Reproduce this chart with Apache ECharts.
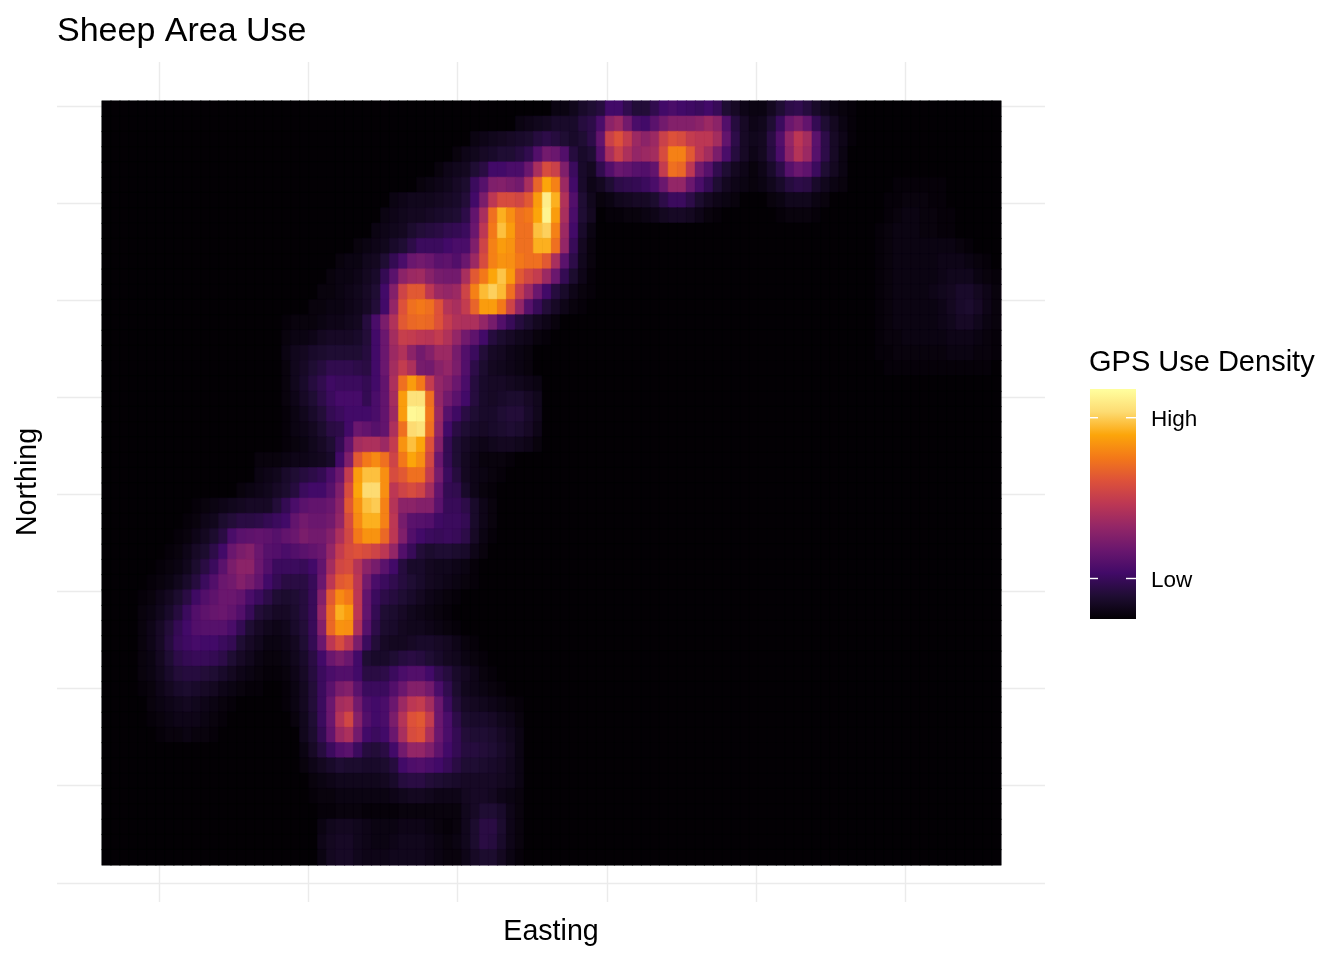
<!DOCTYPE html>
<html><head><meta charset="utf-8">
<style>html,body{margin:0;padding:0;background:#fff}#c{width:1344px;height:960px}</style>
<script src="https://cdn.jsdelivr.net/npm/echarts@6/dist/echarts.min.js"></script>
</head><body><div id="c"></div>
<script>
const columnCount = 100;
const rowCount = 50;
const xTicks = [1000,1500,2000,2500,3000,3500];
const yTicks = [8000,7500,7000,6500,6000,5500,5000,4500,4000];
// density per cell, 0-100 on the colour scale. each row: first number = first column, then values
const mainRows = [
[50,3,3,5,8,10],
[46,3,4,5,6,8,8,8,12,14],
[41,3,4,5,6,7,8,9,12,14,12,10,8,10,14],
[39,2,4,5,7,8,10,10,12,15,24,32,30,24,12,8,10],
[37,2,4,5,6,10,13,20,20,22,22,30,45,58,54,35,18,8,6],
[35,2,3,4,5,7,9,18,25,35,36,34,32,45,65,80,72,42,20,8,4],
[32,3,4,5,5,5,6,7,8,11,20,34,50,58,58,56,62,78,95,82,47,24,10,5],
[31,3,4,5,6,6,7,8,9,10,14,28,45,68,82,75,68,70,80,97,78,45,22,10,6],
[30,3,4,5,6,9,11,12,13,15,16,18,30,50,70,85,78,68,68,85,88,72,42,20,8,3],
[28,2,3,4,5,8,10,14,18,18,18,20,22,22,35,55,72,78,76,68,68,82,82,68,40,17,6,2],
[26,2,3,3,5,6,10,16,22,30,32,30,26,27,24,30,42,58,72,76,75,70,68,68,62,45,26,14,5,2],
[25,2,3,3,4,6,8,16,26,38,42,43,37,33,32,32,45,62,70,80,86,78,62,56,52,42,30,16,9,4,1],
[24,2,2,3,4,5,7,10,20,36,55,62,62,50,42,40,42,55,72,84,88,84,68,52,42,30,20,12,8,4,2,1],
[23,2,2,3,3,4,5,7,11,20,40,60,68,70,68,60,48,45,52,65,78,78,70,55,40,25,17,11,7,4,2,1],
[20,1,2,2,2,3,4,4,5,6,12,22,34,47,62,66,67,66,60,52,47,46,46,40,33,24,17,12,9,6,4,2],
[20,2,3,3,4,6,7,7,7,8,11,20,30,44,53,52,50,49,52,47,40,32,27,20,12,9,7,5,4,2,1],
[20,3,5,6,8,9,10,10,10,10,12,20,30,42,47,38,32,36,42,42,33,24,18,11,7,6,4,3,2],
[20,2,5,7,10,12,15,15,15,14,13,20,30,44,52,46,33,32,37,40,34,24,14,9,6,5,4,3,2],
[20,2,5,8,12,15,19,18,18,18,16,20,28,46,68,78,70,52,40,36,30,22,12,8,7,7,6,5,4,3],
[20,2,4,7,10,14,18,21,21,21,16,22,28,44,78,92,92,68,40,32,26,20,12,8,7,8,9,9,7,5],
[20,1,3,5,8,11,16,18,20,20,20,22,28,42,78,98,97,70,42,25,19,13,10,8,8,10,11,11,8,5],
[20,1,3,4,6,9,13,14,20,30,28,25,28,46,68,90,92,68,40,20,13,10,8,7,8,9,10,9,7,4],
[20,1,2,3,5,7,10,16,28,44,46,46,42,52,76,85,80,60,36,16,10,7,5,4,5,6,6,5,4,2],
[17,2,2,2,3,4,4,5,6,8,20,35,62,70,74,68,55,70,80,75,56,30,16,10,6,4,2,2,2,1],
[17,3,4,5,8,10,12,14,16,22,30,52,78,85,85,75,58,62,68,68,52,33,18,12,6,4,3,2,1],
[15,2,3,4,5,7,9,12,18,20,20,25,35,58,80,90,90,75,50,55,58,55,44,28,16,15,8,4,2,1],
[10,1,2,3,4,5,6,7,7,7,11,16,22,26,28,28,30,38,62,76,85,87,72,48,38,38,36,36,26,17,17,14,8,4,2],
[9,1,2,4,5,9,11,13,13,14,16,18,20,28,32,30,30,32,40,58,74,82,82,72,50,33,26,25,24,19,18,18,16,8,4,2],
[8,1,2,4,6,9,13,22,26,27,28,27,25,28,30,34,32,32,36,46,56,70,76,76,66,50,35,24,20,18,17,18,17,14,7,3,1],
[7,1,2,4,7,9,14,20,30,34,36,30,25,24,22,24,26,28,30,40,52,58,60,58,55,50,40,24,17,11,9,10,10,9,8,4,2],
[6,1,2,3,5,9,13,18,26,34,38,38,30,24,18,18,18,17,20,28,44,56,58,48,38,33,26,20,12,8,8,6,5,5,4,3,1],
[5,1,2,3,5,8,12,18,24,30,32,36,33,28,20,16,13,13,13,17,30,50,62,64,50,32,22,18,15,12,10,8,6,5,4,3,2,1],
[4,1,2,4,6,9,13,19,24,27,30,30,28,22,18,14,10,9,10,12,17,36,62,74,70,50,28,18,14,12,10,8,6,4,3,2,1],
[4,2,3,5,8,12,18,24,27,29,30,28,24,17,11,9,7,7,9,12,17,40,66,82,78,50,28,16,10,9,7,5,4,3,2,1],
[4,2,4,7,11,16,20,24,25,25,25,22,16,10,7,5,4,5,8,11,17,36,66,76,75,46,25,14,9,8,6,5,5,4,3,2,1],
[4,2,4,7,12,17,19,21,20,20,18,16,10,7,5,3,3,4,6,10,16,30,50,58,50,34,18,11,7,6,6,7,8,8,7,6,4,2,1],
[4,2,3,6,10,14,16,17,17,16,14,10,7,5,3,2,2,3,5,8,13,20,30,34,30,20,10,8,8,10,12,13,12,10,8,6,5,3,2,1],
[4,2,3,5,8,11,12,12,11,10,8,6,4,3,2,1,1,2,4,7,12,18,22,24,24,20,13,13,14,18,22,24,24,20,15,12,8,6,4,2,1],
[4,1,2,4,6,8,9,8,7,6,4,3,2,1,1,0,0,1,3,6,11,18,26,34,36,26,18,18,18,24,30,36,36,32,22,15,9,5,4,3,2,1],
[5,2,3,4,5,6,5,4,3,2,1,0,0,0,0,0,1,3,6,11,18,30,44,46,32,22,20,22,30,42,50,52,44,30,18,11,7,6,5,4,3,2,1],
[5,1,2,3,4,4,4,3,2,1,0,0,0,0,0,0,0,2,5,10,18,30,48,56,36,24,20,22,34,48,60,62,52,30,22,14,9,8,8,7,5,4,2],
[6,1,2,2,3,2,2,1,0,0,0,0,0,0,0,0,0,5,9,16,28,42,46,32,20,18,20,30,45,58,60,46,30,22,16,11,10,10,9,7,5,3],
[22,3,7,12,18,24,26,18,12,11,13,20,32,40,40,35,27,20,16,12,12,11,10,8,6,3],
[22,2,4,6,8,10,9,9,8,8,9,12,20,23,24,22,20,17,13,10,10,9,8,7,5,3],
[23,2,3,4,5,5,5,5,5,6,8,12,13,13,11,10,9,8,7,7,7,7,6,5,3],
[23,1,2,2,3,3,3,3,3,3,4,5,6,6,5,4,4,4,6,7,7,6,4,3,2],
[24,1,1,2,2,2,1,1,1,1,2,2,2,2,2,2,2,5,7,10,10,8,4,2],
[24,3,5,6,6,5,4,3,3,3,4,4,4,3,2,1,2,5,9,13,13,9,4,2],
[24,4,6,7,7,5,4,3,3,4,5,5,5,4,3,2,3,5,9,13,12,8,4,2],
[24,3,6,7,7,5,4,4,4,5,5,5,5,4,3,2,2,4,7,9,9,6,3,1]
];
const topRows = [
[55,12,20,20,15,11,11,15,20,22,20,19,18,20,17,10,7,4,3,3,6,10,14,15,12,8,5,3,2,1],
[55,22,38,42,32,22,20,26,32,36,36,36,38,42,38,24,12,7,4,5,10,18,30,34,28,16,10,6,3,1],
[55,28,54,60,52,42,38,42,54,60,58,52,50,50,44,28,14,7,5,6,13,24,40,50,44,26,14,7,4,1],
[55,24,45,54,46,40,42,44,58,72,72,62,50,44,34,22,12,7,4,6,12,22,38,48,42,25,14,7,3],
[55,15,24,30,28,25,24,28,52,68,66,50,32,25,15,10,6,4,2,4,8,14,25,30,27,18,10,6,3],
[55,6,10,14,15,16,18,22,30,40,40,30,22,16,10,6,4,3,2,3,5,8,12,14,13,8,5,3,2],
[55,2,3,5,6,7,7,9,14,18,18,14,9,6,4,3,2,0,0,0,2,3,5,5,5,3,2],
[56,1,1,2,2,3,4,6,7,7,6,4,2,1,0,0,0,0,0,0,1,2,2,2,1]
];
const faintRows = [
[88,1,1,1,1,1,1],
[87,1,1,2,2,2,1,1],
[87,1,2,3,3,2,2,1,1],
[86,1,2,3,3,3,2,2,1,1],
[86,1,2,3,3,3,3,3,3,3,2,1],
[86,1,2,3,3,3,3,3,4,4,4,3,2,1],
[86,1,2,3,3,3,3,3,4,5,5,5,3,2,1],
[86,1,2,3,3,3,3,4,5,6,8,8,6,4,2],
[86,1,2,3,3,3,3,3,4,6,8,9,7,4,2],
[86,1,2,3,3,3,3,3,4,5,7,7,5,3,2],
[86,1,2,2,3,3,3,3,3,4,4,4,3,2,1],
[86,1,1,2,2,2,2,2,2,3,3,3,2,2,1],
[87,1,1,1,1,1,1,1,1,1,1,1,1]
];
const palette = ['#030004','#1F0D33','#420A68','#6A176E','#932667','#BC3754','#DD513A','#F37819','#FCA50A','#FDDB72','#FFFF9F'];

const cells = Array.from({length: rowCount}, () => new Array(columnCount).fill(0));
function fill(rows, firstRow) {
  rows.forEach((row, i) => row.slice(1).forEach((v, j) => { cells[firstRow + i][row[0] + j] = v; }));
}
fill(mainRows, 0); fill(topRows, 0); fill(faintRows, 5);
const heat = [];
cells.forEach((row, r) => row.forEach((v, c) => heat.push({
  value: [c, r, v],
  itemStyle: {borderColor: echarts.color.lerp(v / 100, palette), borderWidth: 0.5}
})));
const cols = Array.from({length: columnCount}, (_, i) => i);
const rws = Array.from({length: rowCount}, (_, i) => i);
const barStops = palette.map((color, i) => ({offset: 1 - i / (palette.length - 1), color}));

const gridLine = {color: '#ebebeb', width: 1.4, type: 'solid'};
const chart = echarts.init(document.getElementById('c'), null, {renderer: 'canvas', width: 1344, height: 960});
chart.setOption({
  animation: false,
  backgroundColor: '#ffffff',
  textStyle: {fontFamily: '"Liberation Sans"'},
  title: {text: 'Sheep Area Use', left: 57, top: 15, padding: 0,
    textStyle: {fontSize: 34, fontWeight: 'normal', color: '#000', fontFamily: '"Liberation Sans"'}},
  grid: [
    {left: 102, top: 101, width: 899, height: 764, show: true, backgroundColor: '#030004', borderWidth: 0, z: 3, outerBoundsMode: 'none'},
    {left: 57, top: 62, width: 988, height: 840, show: false, z: 1, outerBoundsMode: 'none'}
  ],
  xAxis: [
    {type: 'category', gridIndex: 0, data: cols, show: false},
    {type: 'value', gridIndex: 1, min: 658, max: 3967, name: 'Easting', nameLocation: 'middle', nameGap: 16,
      nameTextStyle: {fontSize: 28.6, color: '#000', fontFamily: '"Liberation Sans"'},
      axisLine: {show: false}, axisTick: {show: false}, axisLabel: {show: false}, splitLine: {show: false}}
  ],
  yAxis: [
    {type: 'category', gridIndex: 0, data: rws, inverse: true, show: false},
    {type: 'value', gridIndex: 1, min: 3901, max: 8226.6, name: 'Northing', nameLocation: 'middle', nameGap: 14,
      nameTextStyle: {fontSize: 28.6, color: '#000', fontFamily: '"Liberation Sans"'},
      axisLine: {show: false}, axisTick: {show: false}, axisLabel: {show: false}, splitLine: {show: false}}
  ],
  visualMap: {
    type: 'continuous', seriesIndex: 0, min: 0, max: 100, show: false,
    inRange: {color: palette}
  },
  graphic: [
    {type: 'rect', z: 19, shape: {x: 1090, y: 389, width: 46, height: 230},
      style: {fill: new echarts.graphic.LinearGradient(0, 0, 0, 1, barStops.slice().reverse())}},
    {type: 'text', left: 1089, top: 348, z: 20, style: {text: 'GPS Use Density', fontSize: 29, fill: '#000', fontFamily: '"Liberation Sans"'}},
    {type: 'text', left: 1151, top: 408, z: 20, style: {text: 'High', fontSize: 22.5, fill: '#000', fontFamily: '"Liberation Sans"'}},
    {type: 'text', left: 1151, top: 569, z: 20, style: {text: 'Low', fontSize: 22.5, fill: '#000', fontFamily: '"Liberation Sans"'}},
    {type: 'line', z: 20, shape: {x1: 1090, y1: 417.7, x2: 1098, y2: 417.7}, style: {stroke: '#fff', lineWidth: 1.4}},
    {type: 'line', z: 20, shape: {x1: 1126, y1: 417.7, x2: 1136, y2: 417.7}, style: {stroke: '#fff', lineWidth: 1.4}},
    {type: 'line', z: 20, shape: {x1: 1090, y1: 578.5, x2: 1098, y2: 578.5}, style: {stroke: '#fff', lineWidth: 1.4}},
    {type: 'line', z: 20, shape: {x1: 1126, y1: 578.5, x2: 1136, y2: 578.5}, style: {stroke: '#fff', lineWidth: 1.4}}
  ],
  series: [
    {type: 'heatmap', xAxisIndex: 0, yAxisIndex: 0, data: heat, z: 4, progressive: 0, silent: true},
    {type: 'scatter', xAxisIndex: 1, yAxisIndex: 1, data: [], z: 1, silent: true,
      markLine: {silent: true, symbol: 'none', z: 1, animation: false, label: {show: false}, lineStyle: gridLine,
        data: xTicks.map(v => ({xAxis: v})).concat(yTicks.map(v => ({yAxis: v})))}}
  ]
});
</script></body></html>
